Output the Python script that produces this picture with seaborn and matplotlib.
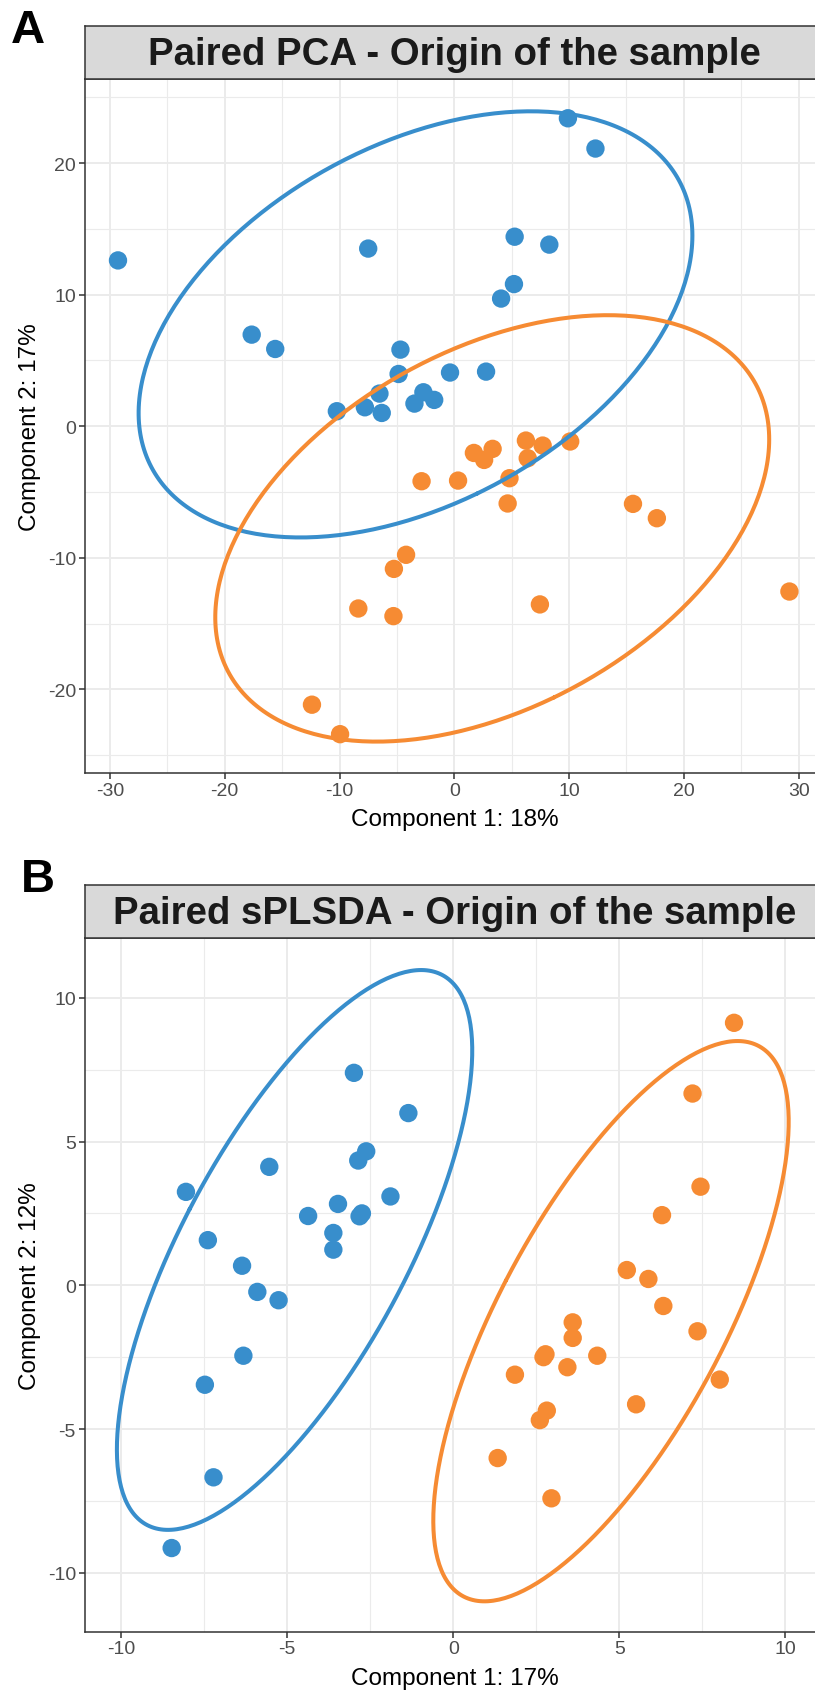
import numpy as np
import pandas as pd
import matplotlib
matplotlib.use("Agg")
import matplotlib.pyplot as plt
import seaborn as sns
from matplotlib.ticker import MultipleLocator

sns.set_theme(style="white")
plt.rcParams['font.family'] = ['Liberation Sans', 'DejaVu Sans']
plt.rcParams['axes.unicode_minus'] = False

# ---------------- data ----------------
groups = ["Origin 1", "Origin 2"]
palette = {"Origin 1": "#388ECC", "Origin 2": "#F68B33"}

pca_g1_x = [9.9, 12.3, -29.3, -7.5, 5.26, 8.28, 5.2, 4.08, -17.65, -15.6, -4.69,
            -4.85, -0.37, 2.77, -6.52, -2.69, -1.75, -3.47, -10.23, -7.79, -6.32]
pca_g1_y = [23.4, 21.1, 12.6, 13.5, 14.4, 13.8, 10.8, 9.7, 6.96, 5.87, 5.82,
            3.97, 4.08, 4.15, 2.48, 2.58, 2.0, 1.72, 1.14, 1.44, 1.01]
pca_g2_x = [6.24, 7.7, 10.1, 3.34, 1.71, 2.6, 6.4, -2.85, 0.33, 4.81, 4.65,
            15.57, 17.65, -4.2, -5.26, -8.36, -5.3, 7.46, 29.2, -12.4, -9.95]
pca_g2_y = [-1.09, -1.47, -1.16, -1.72, -2.03, -2.56, -2.43, -4.18, -4.13, -3.95, -5.87,
            -5.9, -6.99, -9.77, -10.84, -13.85, -14.43, -13.54, -12.56, -21.16, -23.4]

pls_g1_x = [-2.99, -1.35, -2.62, -2.86, -5.54, -8.05, -1.89, -3.47, -4.37, -2.75, -2.82,
            -3.61, -3.61, -7.39, -6.36, -5.9, -5.26, -6.32, -7.48, -7.22, -8.48]
pls_g1_y = [7.39, 5.99, 4.66, 4.34, 4.12, 3.25, 3.09, 2.83, 2.41, 2.5, 2.4,
            1.82, 1.24, 1.57, 0.68, -0.23, -0.52, -2.45, -3.46, -6.68, -9.14]
pls_g2_x = [8.46, 7.21, 7.45, 6.29, 5.23, 5.88, 6.33, 3.6, 3.6, 7.36, 2.78,
            2.72, 4.34, 3.44, 1.86, 8.03, 5.51, 2.82, 2.61, 1.34, 2.96]
pls_g2_y = [9.13, 6.67, 3.43, 2.44, 0.53, 0.22, -0.72, -1.29, -1.83, -1.6, -2.4,
            -2.5, -2.45, -2.85, -3.11, -3.28, -4.14, -4.36, -4.69, -6.01, -7.41]

titles = ["Paired PCA - Origin of the sample", "Paired sPLSDA - Origin of the sample"]
xlabels = ["Component 1: 18%", "Component 1: 17%"]
ylabels = ["Component 2: 17%", "Component 2: 12%"]
panel_letters = ["A", "B"]
x_ticks = [[-30, -20, -10, 0, 10, 20, 30], [-10, -5, 0, 5, 10]]
y_ticks = [[-20, -10, 0, 10, 20], [-10, -5, 0, 5, 10]]
x_minor = [5, 2.5]
y_minor = [5, 2.5]
xlims = [(-32.2, 32.3), (-11.1, 11.2)]
ylims = [(-26.35, 26.4), (-12.05, 12.07)]


def make_df(g1x, g1y, g2x, g2y):
    return pd.DataFrame({
        "x": list(g1x) + list(g2x),
        "y": list(g1y) + list(g2y),
        "group": [groups[0]] * len(g1x) + [groups[1]] * len(g2x),
    })


dfs = [make_df(pca_g1_x, pca_g1_y, pca_g2_x, pca_g2_y),
       make_df(pls_g1_x, pls_g1_y, pls_g2_x, pls_g2_y)]


def conf_ellipse(x, y, level_chi2=5.991464547107979, n=300):
    x = np.asarray(x); y = np.asarray(y)
    cov = np.cov(np.vstack([x, y]))
    vals, vecs = np.linalg.eigh(cov)
    t = np.linspace(0, 2 * np.pi, n)
    circ = np.vstack([np.cos(t), np.sin(t)])
    pts = vecs @ (np.sqrt(vals * level_chi2)[:, None] * circ)
    return pts[0] + x.mean(), pts[1] + y.mean()


W, H = 815, 1699
fig = plt.figure(figsize=(W / 100, H / 100), dpi=100)

left_px, right_px = 84.7, 825.0
panels = [
    dict(strip_top=26.7, strip_bot=79.8, bottom=774.0, letter_xy=(28, 31)),
    dict(strip_top=886.0, strip_bot=939.3, bottom=1632.7, letter_xy=(38, 880)),
]

for i, p in enumerate(panels):
    axl = left_px / W
    axw = (right_px - left_px) / W
    ax = fig.add_axes([axl, 1 - p["bottom"] / H, axw, (p["bottom"] - p["strip_bot"]) / H])
    sax = fig.add_axes([axl, 1 - p["strip_bot"] / H, axw, (p["strip_bot"] - p["strip_top"]) / H])

    df = dfs[i]
    ax.set_facecolor("white")
    ax.set_axisbelow(True)
    sns.scatterplot(data=df, x="x", y="y", hue="group", palette=palette, s=175,
                    edgecolor="none", linewidth=0, legend=False, ax=ax, zorder=2)
    for g in groups:
        sub = df[df["group"] == g]
        ex, ey = conf_ellipse(sub["x"], sub["y"])
        ax.plot(ex, ey, color=palette[g], lw=2.9, zorder=3, solid_capstyle="round")

    ax.set_xlim(*xlims[i])
    ax.set_ylim(*ylims[i])
    ax.set_xticks(x_ticks[i])
    ax.set_yticks(y_ticks[i])
    ax.xaxis.set_minor_locator(MultipleLocator(x_minor[i]))
    ax.yaxis.set_minor_locator(MultipleLocator(y_minor[i]))
    ax.grid(which="major", color="#EBEBEB", lw=1.4, zorder=0)
    ax.grid(which="minor", color="#EBEBEB", lw=0.8, zorder=0)
    ax.tick_params(which="major", direction="out", length=4.3, width=1.1,
                   color="#333333", labelcolor="#4D4D4D", labelsize=14, pad=2,
                   bottom=True, left=True)
    ax.tick_params(which="minor", length=0)
    for s in ax.spines.values():
        s.set_color("#333333")
        s.set_linewidth(1.1)
    ax.set_xlabel(xlabels[i], fontsize=17.5, color="black", labelpad=7)
    ax.set_ylabel(ylabels[i], fontsize=17.5, color="black", labelpad=5)

    sax.set_facecolor("#D9D9D9")
    sax.set_xticks([]); sax.set_yticks([])
    for s in sax.spines.values():
        s.set_color("#333333")
        s.set_linewidth(1.1)
    sax.text(0.5, 0.47, titles[i], transform=sax.transAxes, ha="center", va="center",
             fontsize=27.6, fontweight="bold", color="#1A1A1A")

    lx, ly = p["letter_xy"]
    fig.text(lx / W, 1 - ly / H, panel_letters[i], ha="center", va="center",
             fontsize=34, fontweight="bold", color="black")

fig.savefig("out.png", dpi=100, facecolor="white")
